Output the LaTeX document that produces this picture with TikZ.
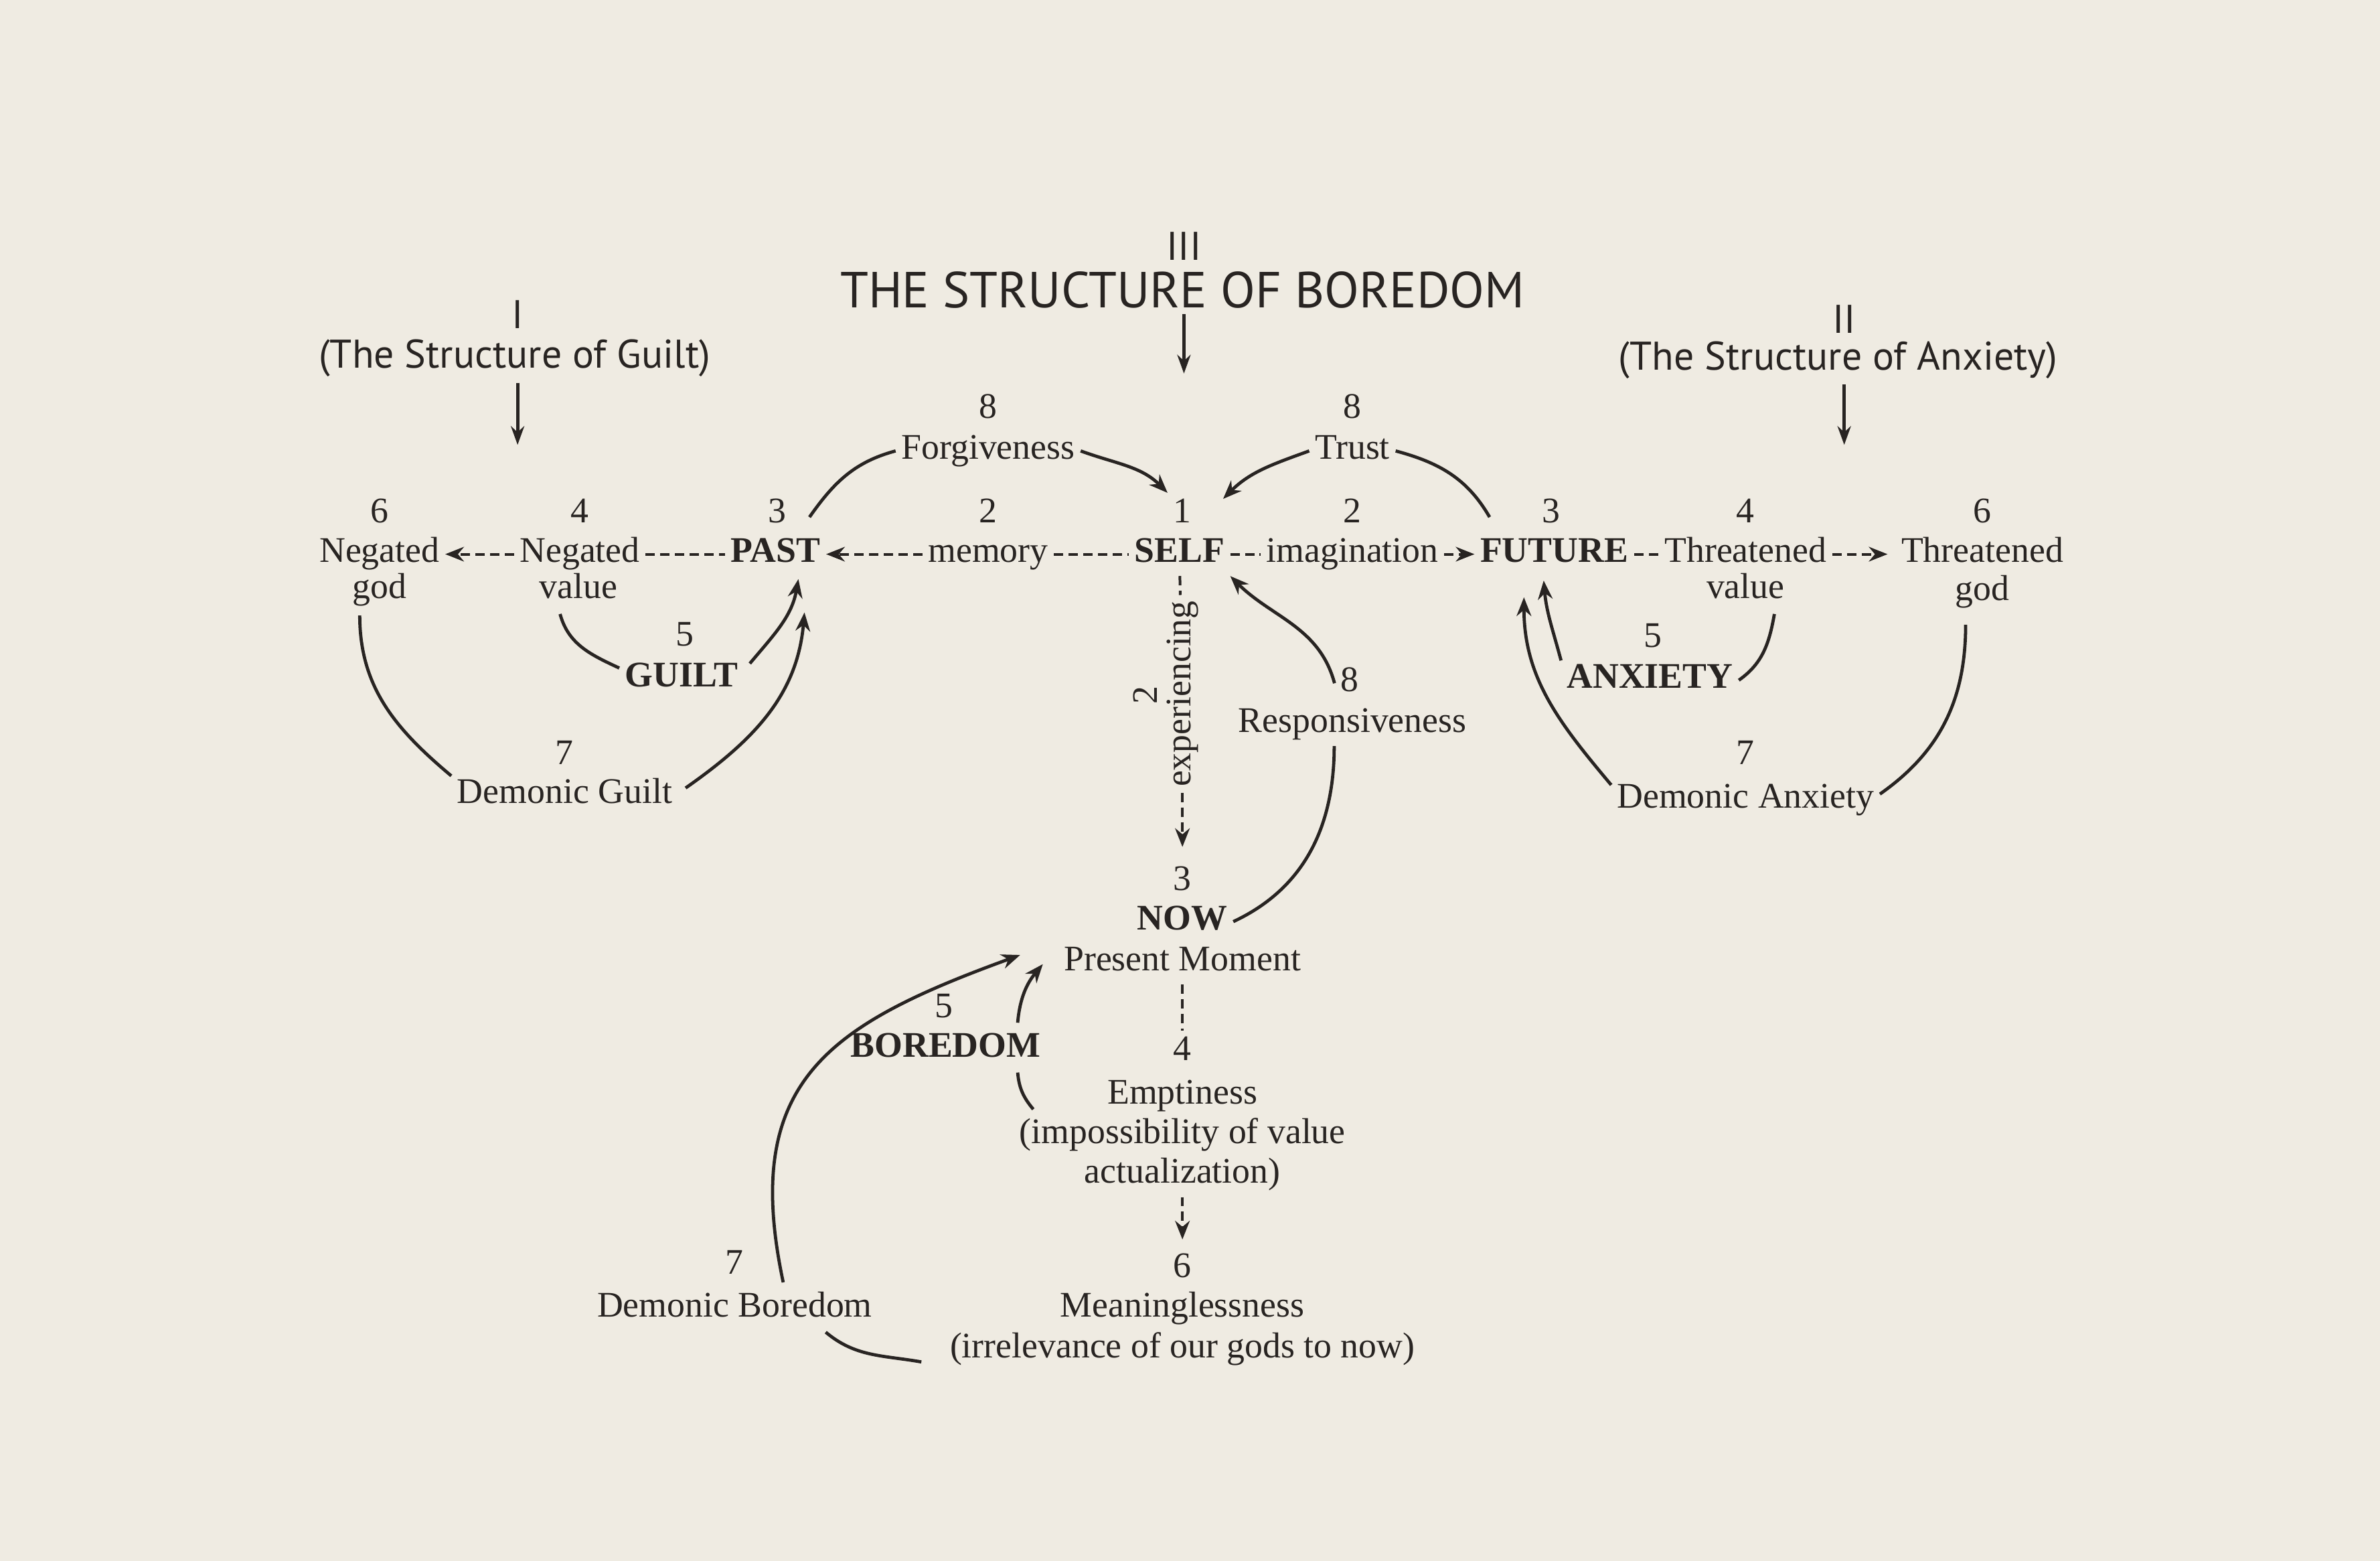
\documentclass[tikz,border=0pt]{standalone}
\usepackage{fontspec}
\setmainfont{Liberation Serif}
\newfontfamily\headfont{PT Sans}
\usetikzlibrary{arrows.meta,calc}
\definecolor{paper}{RGB}{239,235,226}
\definecolor{ink}{RGB}{40,36,34}

\begin{document}
\begin{tikzpicture}[x=0.02cm, y=0.02cm, ink,
    txt/.style={font=\fontsize{13.5}{16}\selectfont, text=ink, inner sep=2pt, text height=9pt, text depth=3pt},
    key/.style={txt, font=\fontsize{13.5}{16}\selectfont\bfseries},
    head/.style={font=\headfont\fontsize{15}{18}\selectfont, text=ink, inner sep=2pt},
    dashline/.style={draw=ink, line width=1pt, dash pattern=on 3.5pt off 2pt},
    arcline/.style={draw=ink, line width=1.2pt},
    tipped/.style={-{Stealth[length=7pt,width=5.5pt]}},
    headarrow/.style={draw=ink, line width=1.3pt, -{Stealth[length=7pt,width=5pt]}}]
  \fill[paper] (0,0) rectangle (1568,-1028);
  \useasboundingbox (0,0) rectangle (1568,-1028);

  % headings
  \node[head] (h3num) at (780,-162) {III};
  \node[head, font=\headfont\fontsize{19}{22}\selectfont] (title) at (779,-191) {THE STRUCTURE OF BOREDOM};
  \node[head] (h1num) at (341,-207) {I};
  \node[head] (h1) at (339,-236) {(The Structure of Guilt)};
  \node[head] (h2num) at (1215,-210) {II};
  \node[head] (h2) at (1211,-237) {(The Structure of Anxiety)};
  \coordinate (h1tip) at (341,-293);
  \coordinate (h3tip) at (780,-246);
  \coordinate (h2tip) at (1215,-293);
  \draw[headarrow] (h1tip |- h1.south) -- (h1tip);
  \draw[headarrow] (h3tip |- title.south) -- (h3tip);
  \draw[headarrow] (h2tip |- h2.south) -- (h2tip);

  % main row
  \node[txt] (ngod) at (250,-365) {Negated};
  \node[txt] (ngod2) at (250,-389) {god};
  \node[txt] (nval) at (382,-365) {Negated};
  \node[txt] (nval2) at (381,-389) {value};
  \node[key] (past) at (511,-365) {PAST};
  \node[txt] (mem) at (651,-365) {memory};
  \node[key] (self) at (777,-365) {SELF};
  \node[txt] (imag) at (891,-365) {imagination};
  \node[key] (fut) at (1024,-365) {FUTURE};
  \node[txt] (tval) at (1150,-365) {Threatened};
  \node[txt] (tval2) at (1150,-389) {value};
  \node[txt] (tgod) at (1306,-365) {Threatened};
  \node[txt] (tgod2) at (1306,-390) {god};
  % numbers over the row
  \foreach \n/\x/\t in {ngodnum/250/6, nvalnum/382/4, pastnum/512/3, memnum/651/2,
      selfnum/779/1, imagnum/891/2, futnum/1022/3, tvalnum/1150/4, tgodnum/1306/6}
    \node[txt] (\n) at (\x,-339) {\t};

  \node[txt] (forgnum) at (651,-270) {8};
  \node[txt] (forg) at (651,-297) {Forgiveness};
  \node[txt] (trustnum) at (891,-270) {8};
  \node[txt] (trust) at (891,-297) {Trust};

  \node[txt] (guiltnum) at (451,-420) {5};
  \node[key] (guilt) at (449,-447) {GUILT};
  \node[txt] (dguiltnum) at (372,-498) {7};
  \node[txt] (dguilt) at (372,-524) {Demonic Guilt};

  \node[txt] (anxnum) at (1089,-421) {5};
  \node[key] (anx) at (1087,-448) {ANXIETY};
  \node[txt] (danxnum) at (1150,-498) {7};
  \node[txt] (danx) at (1150,-527) {Demonic Anxiety};

  \node[txt] (respnum) at (889,-450) {8};
  \node[txt] (resp) at (891,-477) {Responsiveness};

  % middle column
  \node[txt, rotate=90] (exp) at (779,-457) {experiencing};
  \node[txt, rotate=90] (expnum) at (757,-458) {2};
  \node[txt] (nownum) at (779,-581) {3};
  \node[key] (now) at (779,-607) {NOW};
  \node[txt] (pm) at (779,-634) {Present Moment};
  \node[txt] (empnum) at (779,-693) {4};
  \node[txt] (emp) at (779,-722) {Emptiness};
  \node[txt] (emp2) at (779,-748) {(impossibility of value};
  \node[txt] (emp3) at (779,-774) {actualization)};
  \node[txt] (meannum) at (779,-836) {6};
  \node[txt] (mean) at (779,-862) {Meaninglessness};
  \node[txt] (mean2) at (779,-889) {(irrelevance of our gods to now)};

  \node[txt] (bornum) at (622,-665) {5};
  \node[key] (bor) at (623,-691) {BOREDOM};
  \node[txt] (dbornum) at (484,-834) {7};
  \node[txt] (dbor) at (484,-862) {Demonic Boredom};

  % dashed links
  \draw[dashline,tipped] (nval) -- (ngod);
  \draw[dashline] (nval) -- (past);
  \draw[dashline,tipped] (mem) -- (past);
  \draw[dashline] (mem) -- (self);
  \draw[dashline] (self) -- (imag);
  \draw[dashline,tipped] (imag) -- (fut);
  \draw[dashline] (fut) -- (tval);
  \draw[dashline,tipped,shorten >=3pt] (tval) -- (tgod);
  \draw[dashline] (self) -- (exp);
  \draw[dashline,tipped,shorten >=5pt] (exp) -- (nownum);
  \draw[dashline] (pm) -- (empnum);
  \draw[dashline,tipped,shorten >=3pt] (emp3) -- (meannum);

  % forgiveness and trust
  \draw[arcline] ($(past.north east)+(-11,10)$) to[out=55,in=195] (forg.west);
  \draw[arcline,tipped] (forg.east) to[out=-20,in=135] (selfnum.north west);
  \draw[arcline] ($(fut.north west)+(10,10)$) to[out=120,in=-15] (trust.east);
  \draw[arcline,tipped] (trust.west) to[out=200,in=45] ($(selfnum.north east)+(17,-4)$);
  % responsiveness
  \draw[arcline,tipped] (respnum.west) to[out=105,in=-45] (self.south east);
  \draw[arcline] ($(resp.south)+(-12,0)$) to[out=-90,in=25] (now.east);
  % guilt
  \draw[arcline] ($(nval2.south)+(-12,-1)$) to[out=-75,in=155] ($(guilt.west)+(0,7)$);
  \draw[arcline,tipped] ($(guilt.east)+(4,10)$) to[out=50,in=-100] ($(past.south)+(15,-2)$);
  \draw[arcline] ($(ngod2.south)+(-13,-2)$) to[out=-90,in=140] ($(dguilt.west)+(0,13)$);
  \draw[arcline,tipped] ($(dguilt.east)+(5,5)$) to[out=35,in=-95] ($(past.south)+(19,-24)$);
  % anxiety
  \draw[arcline] ($(tval2.south)+(19,-1)$) to[out=-100,in=35] (anx.east);
  \draw[arcline,tipped] ($(anx.west)+(0,13)$) to[out=105,in=-85] ($(fut.south)+(-7,-3)$);
  \draw[arcline] ($(tgod2.south)+(-11,-7)$) to[out=-90,in=35] ($(danx.east)+(0,4)$);
  \draw[arcline,tipped] ($(danx.west)+(0,10)$) to[out=130,in=-90] ($(fut.south)+(-20,-14)$);
  % boredom
  \draw[arcline,tipped] ($(bor.north east)+(-19,3)$) to[out=85,in=230] ($(pm.west)+(-10,-1)$);
  \draw[arcline] ($(bor.south east)+(-19,-1)$) to[out=-85,in=130] ($(emp2.north west)+(13,3)$);
  \draw[arcline,tipped] ($(dbor.north)+(32,3)$) to[out=102,in=200,looseness=1.3] ($(pm.west)+(-25,5)$);
  \draw[arcline] ($(dbor.south)+(60,-1)$) to[out=-40,in=170] ($(mean2.west)+(-15,-8)$);
\end{tikzpicture}
\end{document}
